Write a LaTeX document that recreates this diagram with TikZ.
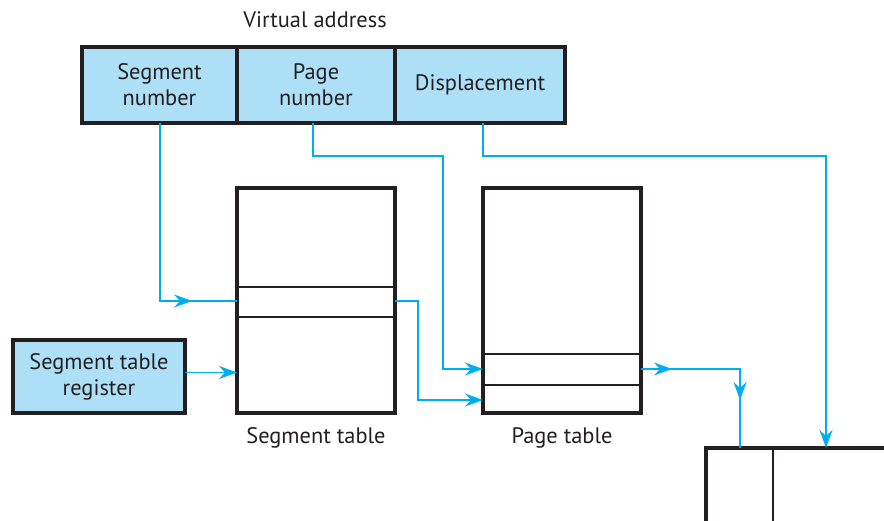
\documentclass[tikz,border=0pt]{standalone}
\usepackage{fontspec}
\setmainfont{PT Sans}
\usetikzlibrary{arrows.meta,positioning,decorations.markings}
\definecolor{cell}{HTML}{ADE0F7}
\definecolor{wire}{HTML}{00AEEF}
\definecolor{ink}{HTML}{231F20}

\begin{document}
\begin{tikzpicture}[
    x=1pt,y=-1pt,
    field/.style={rectangle,draw=ink,fill=cell,line width=3.2pt,outer sep=0pt,inner sep=0pt,align=center,anchor=north west,font=\fontsize{22.4}{26}\selectfont,text=ink},
    tbl/.style={rectangle,draw=ink,line width=3.2pt,outer sep=0pt,inner sep=0pt,anchor=north west},
    rowline/.style={draw=ink,line width=1.6pt},
    lbl/.style={font=\fontsize{22.4}{26}\selectfont,text=ink},
    conn/.style={draw=wire,line width=1.7pt},
    tip/.style={-{Stealth[length=18pt,width=13pt,inset=6pt]}},
    midarr/.style={postaction={decorate,decoration={markings,
        mark=at position #1 with {\arrow{Stealth[length=18pt,width=13pt,inset=6pt]}}}}}
]
\useasboundingbox (0,0) rectangle (884,520);
\clip (0,0) rectangle (884,520);

% Virtual address fields
\node[lbl] (va) at (315,20) {Virtual address};
\node[field,minimum width=155pt,minimum height=76pt] (segnum) at (82,47) {Segment\\number};
\node[field,minimum width=158pt,minimum height=76pt,right=0pt of segnum] (pagnum) {Page\\number};
\node[field,minimum width=170pt,minimum height=76pt,right=0pt of pagnum] (disp) {Displacement};

% Segment table
\node[tbl,minimum width=158pt,minimum height=225pt] (segtab) at (237,188) {};
\draw[rowline] ([yshift=-99pt]segtab.north west) -- ([yshift=-99pt]segtab.north east);
\draw[rowline] ([yshift=-129pt]segtab.north west) -- ([yshift=-129pt]segtab.north east);
\coordinate (segrow) at ([yshift=-113pt]segtab.north west);
\coordinate (segout) at ([yshift=-113pt]segtab.north east);
\node[lbl,below=11pt of segtab] (seglbl) {Segment table};

% Page table
\node[tbl,minimum width=158pt,minimum height=225pt] (pagtab) at (483,188) {};
\draw[rowline] ([yshift=-166pt]pagtab.north west) -- ([yshift=-166pt]pagtab.north east);
\draw[rowline] ([yshift=-197pt]pagtab.north west) -- ([yshift=-197pt]pagtab.north east);
\coordinate (pagrow) at ([yshift=-181pt]pagtab.north west);
\coordinate (pagbot) at ([yshift=-212pt]pagtab.north west);
\coordinate (pagout) at ([yshift=-181pt]pagtab.north east);
\node[lbl,below=11pt of pagtab] (paglbl) {Page table};

% Segment table register
\node[field,minimum width=172pt,minimum height=73pt] (str) at (13,340) {Segment table\\register};
\coordinate (strout) at ([yshift=4pt]str.east);

% Real address frame
\node[tbl,minimum width=220pt,minimum height=120pt] (frame) at (706,448) {};
\draw[rowline] ([xshift=67pt]frame.north west) -- ([xshift=67pt]frame.south west);

% Connectors
\draw[conn,midarr=-45pt] ([xshift=0.5pt]segnum.south) |- (segrow);
\draw[conn,tip] (strout) -- (segtab.west |- strout);
\draw[conn,tip] ([xshift=-3pt]pagnum.south) -- ++(0,33) -| ([xshift=-40pt]pagrow) -- (pagrow);
\draw[conn,tip] (segout) -- ++(23,0) |- (pagbot);
\draw[conn,tip] ([xshift=3pt]disp.south) -- ++(0,33) -| ([xshift=120pt]frame.north west);
\draw[conn,midarr=31pt,midarr=-48pt] (pagout) -| ([xshift=34pt]frame.north west);
\end{tikzpicture}
\end{document}
